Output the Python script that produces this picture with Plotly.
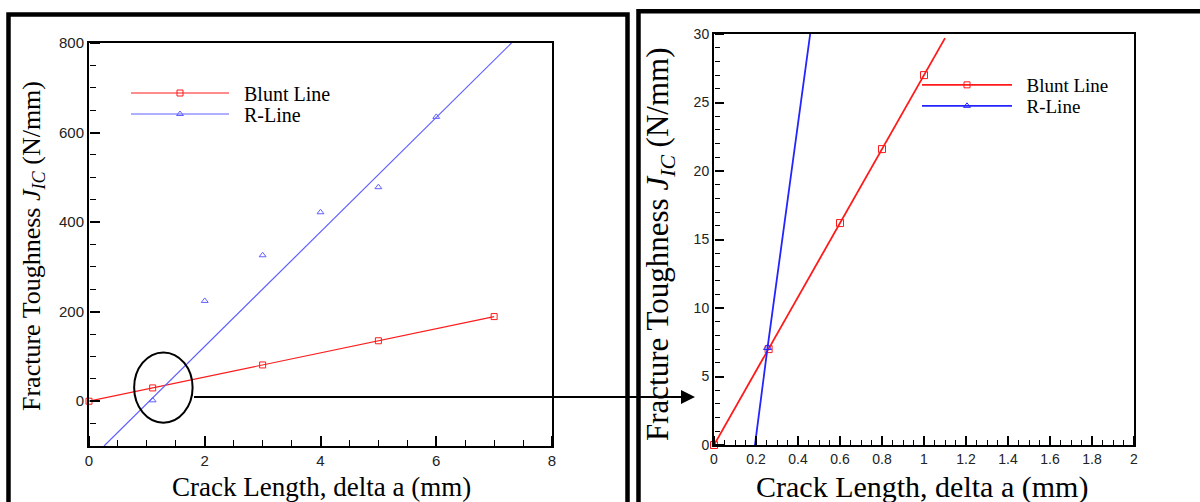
import plotly.graph_objects as go

W, H = 1200, 502


def px(x):
    return x / W


def py(y):
    return (H - y) / H


# ---------------- data ----------------
# left panel (full range)
blunt_left_x = [0, 1.1, 3, 5, 7]
blunt_left_y = [0, 29.7, 81, 135, 189]
rline_left_x = [1.1, 2, 3, 4, 5, 6]
rline_left_y = [2, 224, 326, 422, 478, 635]
rfit_left_x = [0.26, 7.3]
rfit_left_y = [-100, 800]

# right panel (zoomed)
blunt_right_x = [0, 0.26, 0.6, 0.8, 1.0]
blunt_right_y = [0, 7.0, 16.2, 21.6, 27.0]
blunt_right_line_x = [0, 0.26, 0.6, 0.8, 1.0, 1.1]
blunt_right_line_y = [0, 7.0, 16.2, 21.6, 27.0, 29.7]
rline_right_x = [0.255]
rline_right_y = [7.1]
rfit_right_x = [0.195, 0.255, 0.458]
rfit_right_y = [0, 7.1, 30]

series_names = ["Blunt Line", "R-Line"]

x_title = "Crack Length, delta a (mm)"
y_title = "Fracture Toughness <i>J<sub>IC</sub></i> (N/mm)"

RED = "#ff1a1a"
BLUE_L = "#6060ff"
BLUE_R = "#2424ff"
SERIF = "Liberation Serif, Times New Roman, serif"
SANS = "Liberation Sans, Arial, sans-serif"

fig = go.Figure()

# left panel traces
fig.add_trace(go.Scatter(x=blunt_left_x, y=blunt_left_y, mode="lines",
                         line=dict(color=RED, width=1.2),
                         showlegend=False, xaxis="x", yaxis="y"))
fig.add_trace(go.Scatter(x=blunt_left_x, y=blunt_left_y, mode="markers",
                         marker=dict(symbol="square-open", size=6, color=RED, line=dict(width=1)),
                         cliponaxis=False, showlegend=False, xaxis="x", yaxis="y"))
fig.add_trace(go.Scatter(x=rfit_left_x, y=rfit_left_y, mode="lines",
                         line=dict(color=BLUE_L, width=1.2),
                         showlegend=False, xaxis="x", yaxis="y"))
fig.add_trace(go.Scatter(x=rline_left_x, y=rline_left_y, mode="markers",
                         marker=dict(symbol="triangle-up-open", size=6, color=BLUE_L, line=dict(width=1)),
                         showlegend=False, xaxis="x", yaxis="y"))

# right panel traces
fig.add_trace(go.Scatter(x=blunt_right_line_x, y=blunt_right_line_y, mode="lines",
                         line=dict(color=RED, width=1.8),
                         showlegend=False, xaxis="x2", yaxis="y2"))
fig.add_trace(go.Scatter(x=blunt_right_x, y=blunt_right_y, mode="markers",
                         marker=dict(symbol="square-open", size=7, color=RED, line=dict(width=1)),
                         cliponaxis=False, showlegend=False, xaxis="x2", yaxis="y2"))
fig.add_trace(go.Scatter(x=rfit_right_x, y=rfit_right_y, mode="lines",
                         line=dict(color=BLUE_R, width=1.8),
                         showlegend=False, xaxis="x2", yaxis="y2"))
fig.add_trace(go.Scatter(x=rline_right_x, y=rline_right_y, mode="markers",
                         marker=dict(symbol="triangle-up-open", size=7, color=BLUE_R, line=dict(width=1)),
                         showlegend=False, xaxis="x2", yaxis="y2"))

# empty traces that activate the tick-only overlay axes
for xa, ya in (("x3", "y3"), ("x4", "y4")):
    fig.add_trace(go.Scatter(x=[None], y=[None], mode="markers", showlegend=False,
                             hoverinfo="skip", xaxis=xa, yaxis=ya))

# legend entries (one legend per row for exact placement)
NB = "\u00a0\u00a0"
legend_specs = [
    ("legend", series_names[0], RED, "square-open", 1.2, "x", "y"),
    ("legend2", series_names[1], BLUE_L, "triangle-up-open", 1.2, "x", "y"),
    ("legend3", series_names[0], RED, "square-open", 1.8, "x2", "y2"),
    ("legend4", series_names[1], BLUE_R, "triangle-up-open", 1.8, "x2", "y2"),
]
for lg, name, col, sym, lw, xa, ya in legend_specs:
    fig.add_trace(go.Scatter(x=[None], y=[None], mode="lines+markers", name=NB + name,
                             line=dict(color=col, width=lw),
                             marker=dict(symbol=sym, size=6, color=col, line=dict(width=1)),
                             legend=lg, xaxis=xa, yaxis=ya))


def legend_cfg(x, y, w, size):
    return dict(x=px(x), y=py(y), xanchor="left", yanchor="middle",
                itemwidth=w, bgcolor="rgba(0,0,0,0)", borderwidth=0,
                font=dict(family=SERIF, size=size, color="black"))


tickfont_l = dict(family=SANS, size=15, color="#222")
tickfont_r = dict(family=SANS, size=14, color="#222")


def main_axis(domain, rng, dtick, font, anchor):
    return dict(domain=domain, range=rng, dtick=dtick, tick0=0, anchor=anchor,
                showgrid=False, zeroline=False, showline=True, linecolor="black",
                linewidth=2, mirror=True, automargin=False, ticks="",
                tickfont=font)


def tick_axis(over, side, pos, rng, dtick, mdtick, tlen, mlen):
    # tick-only axis placed on the main axis line, with its ticks pointing into the plot
    return dict(overlaying=over, side=side, anchor="free", position=pos,
                range=rng, dtick=dtick, tick0=0, showticklabels=False,
                showgrid=False, zeroline=False, showline=False, automargin=False,
                ticks="outside", ticklen=tlen, tickwidth=2, tickcolor="black",
                minor=dict(ticks="outside", dtick=mdtick, ticklen=mlen, tickwidth=1,
                           tickcolor="black"))


fig.update_layout(
    template="none",
    width=W, height=H, margin=dict(l=0, r=0, t=0, b=0, pad=0, autoexpand=False),
    paper_bgcolor="white", plot_bgcolor="white",
    xaxis=main_axis([px(89), px(552)], [0, 8], 2, tickfont_l, "y"),
    yaxis=main_axis([py(446), py(43)], [-100, 800], 200, tickfont_l, "x"),
    xaxis2=main_axis([px(714), px(1134)], [0, 2], 0.2, tickfont_r, "y2"),
    yaxis2=main_axis([py(445), py(34)], [0, 30], 5, tickfont_r, "x2"),
    xaxis3=tick_axis("x", "top", py(446), [0, 8], 2, 0.5, 10, 6),
    yaxis3=tick_axis("y", "right", px(89), [-100, 800], 200, 50, 10, 6),
    xaxis4=tick_axis("x2", "top", py(445), [0, 2], 0.2, 0.05, 9, 5),
    yaxis4=tick_axis("y2", "right", px(714), [0, 30], 5, 1, 9, 5),
    legend=legend_cfg(126, 93, 98, 20),
    legend2=legend_cfg(126, 114, 98, 20),
    legend3=legend_cfg(917, 85, 90, 19),
    legend4=legend_cfg(917, 106, 90, 19),
)


def path(points):
    return "M " + " L ".join(f"{px(a):.5f},{py(b):.5f}" for a, b in points)


shapes = [
    dict(type="path", xref="paper", yref="paper",
         path=path([(8.5, 503), (8.5, 14.5), (627.5, 14.5), (627.5, 503)]),
         line=dict(color="black", width=4.5), layer="below"),
    dict(type="path", xref="paper", yref="paper",
         path=path([(638.5, 503), (638.5, 11.3), (1201, 11.3)]),
         line=dict(color="black", width=4.5), layer="below"),
    dict(type="circle", xref="x", yref="y", x0=0.78, x1=1.79, y0=-48, y1=109,
         line=dict(color="black", width=2)),
]
fig.update_layout(shapes=shapes)

annotations = [
    dict(text="", x=px(695), y=py(397), xref="paper", yref="paper",
         ax=192.5 - 695, ay=0, axref="pixel", ayref="pixel",
         showarrow=True, arrowhead=2, arrowwidth=2, arrowsize=1.4, arrowcolor="black"),
    dict(text=x_title, x=px(321), y=py(487), xref="paper", yref="paper", showarrow=False,
         xanchor="center", yanchor="middle", font=dict(family=SERIF, size=27, color="black")),
    dict(text=x_title, x=px(922), y=py(487), xref="paper", yref="paper", showarrow=False,
         xanchor="center", yanchor="middle", font=dict(family=SERIF, size=30, color="black")),
    dict(text=y_title, x=px(33), y=py(246), xref="paper", yref="paper", showarrow=False,
         textangle=-90, xanchor="center", yanchor="middle",
         font=dict(family=SERIF, size=26, color="black")),
    dict(text=y_title, x=px(660), y=py(245), xref="paper", yref="paper", showarrow=False,
         textangle=-90, xanchor="center", yanchor="middle",
         font=dict(family=SERIF, size=31, color="black")),
]
fig.update_layout(annotations=annotations)

fig.write_html("out.html")
